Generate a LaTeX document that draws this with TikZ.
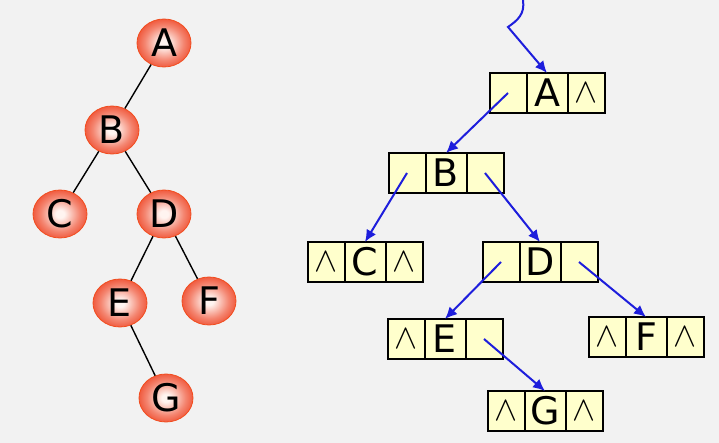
\documentclass[tikz,border=0pt]{standalone}
\usepackage{fontspec}
\setmainfont{DejaVu Sans}
\usepackage{tikz}
\usetikzlibrary{arrows.meta,positioning,shapes.geometric}
\definecolor{treered}{HTML}{EE4424}
\definecolor{treepink}{HTML}{FFF4F0}
\definecolor{cellyellow}{HTML}{FFFFCC}
\definecolor{linkblue}{HTML}{1E1EDC}
\definecolor{slidegray}{HTML}{F2F2F2}
\pgfdeclareradialshading{treeglow}{\pgfpoint{0bp}{0bp}}{%
  color(0bp)=(treepink);
  color(4bp)=(treepink);
  color(18bp)=(treered!65!white);
  color(29bp)=(treered);
  color(50bp)=(treered)}
\tikzset{
  treenode/.style={
    ellipse,
    draw=treered!85!orange,
    shading=treeglow,
    minimum width=27pt,
    minimum height=24pt,
    inner sep=0pt,
    font=\fontsize{19}{22}\selectfont
  },
  treeedge/.style={
    draw=black,
    line width=0.7pt
  },
  datacell/.style={
    draw=black,
    fill=cellyellow,
    line width=1pt,
    minimum width=20.5pt,
    minimum height=20pt,
    inner sep=0pt,
    outer sep=0pt,
    font=\fontsize{19}{22}\selectfont
  },
  ptrcell/.style={
    datacell,
    minimum width=18.5pt,
    font=\fontsize{16}{20}\selectfont
  },
  link/.style={
    -{Latex[length=6pt,width=5.5pt]},
    line width=1pt,
    draw=linkblue
  }
}
% one list node: name, position of data cell, left pointer, data, right pointer
\newcommand{\listrec}[5]{%
  \node[datacell] (#1) at #2 {#4};
  \node[ptrcell, left=0pt of #1] (#1-l) {#3};
  \node[ptrcell, right=0pt of #1] (#1-r) {#5};
}
\newcommand{\nil}{$\wedge$}
\begin{document}
\begin{tikzpicture}[x=0.5pt, y=-0.5pt]
\fill[slidegray] (0,0) rectangle (719,443);
\useasboundingbox (0,0) rectangle (719,443);
% binary tree
\node[treenode] (tA) at (164,43) {A};
\node[treenode] (tB) at (112,130) {B};
\node[treenode] (tC) at (60,214) {C};
\node[treenode] (tD) at (164,214) {D};
\node[treenode] (tE) at (120,303) {E};
\node[treenode] (tF) at (209,301) {F};
\node[treenode] (tG) at (166,398) {G};
\draw[treeedge] (tA) -- (tB);
\draw[treeedge] (tB) -- (tC);
\draw[treeedge] (tB) -- (tD);
\draw[treeedge] (tD) -- (tE);
\draw[treeedge] (tD) -- (tF);
\draw[treeedge] (tE) -- (tG);
% linked storage
\listrec{A}{(547,93)}{}{A}{\nil}
\listrec{B}{(446,173)}{}{B}{}
\listrec{C}{(365,262)}{\nil}{C}{\nil}
\listrec{D}{(540,262)}{}{D}{}
\listrec{E}{(445,339)}{\nil}{E}{}
\listrec{F}{(646,337)}{\nil}{F}{\nil}
\listrec{G}{(545,411)}{\nil}{G}{\nil}
\coordinate (root) at (523,0);
\draw[link] (root) .. controls (525,14) and (518,20) .. (508,27) -- (A.north);
\draw[link] (A-l.center) -- (B.north);
\draw[link] (B-l.center) -- (C.north);
\draw[link] (B-r.center) -- (D.north);
\draw[link] (D-l.center) -- (E.north);
\draw[link] (D-r.center) -- (F.north);
\draw[link] (E-r.center) -- (G.north);
\end{tikzpicture}
\end{document}
